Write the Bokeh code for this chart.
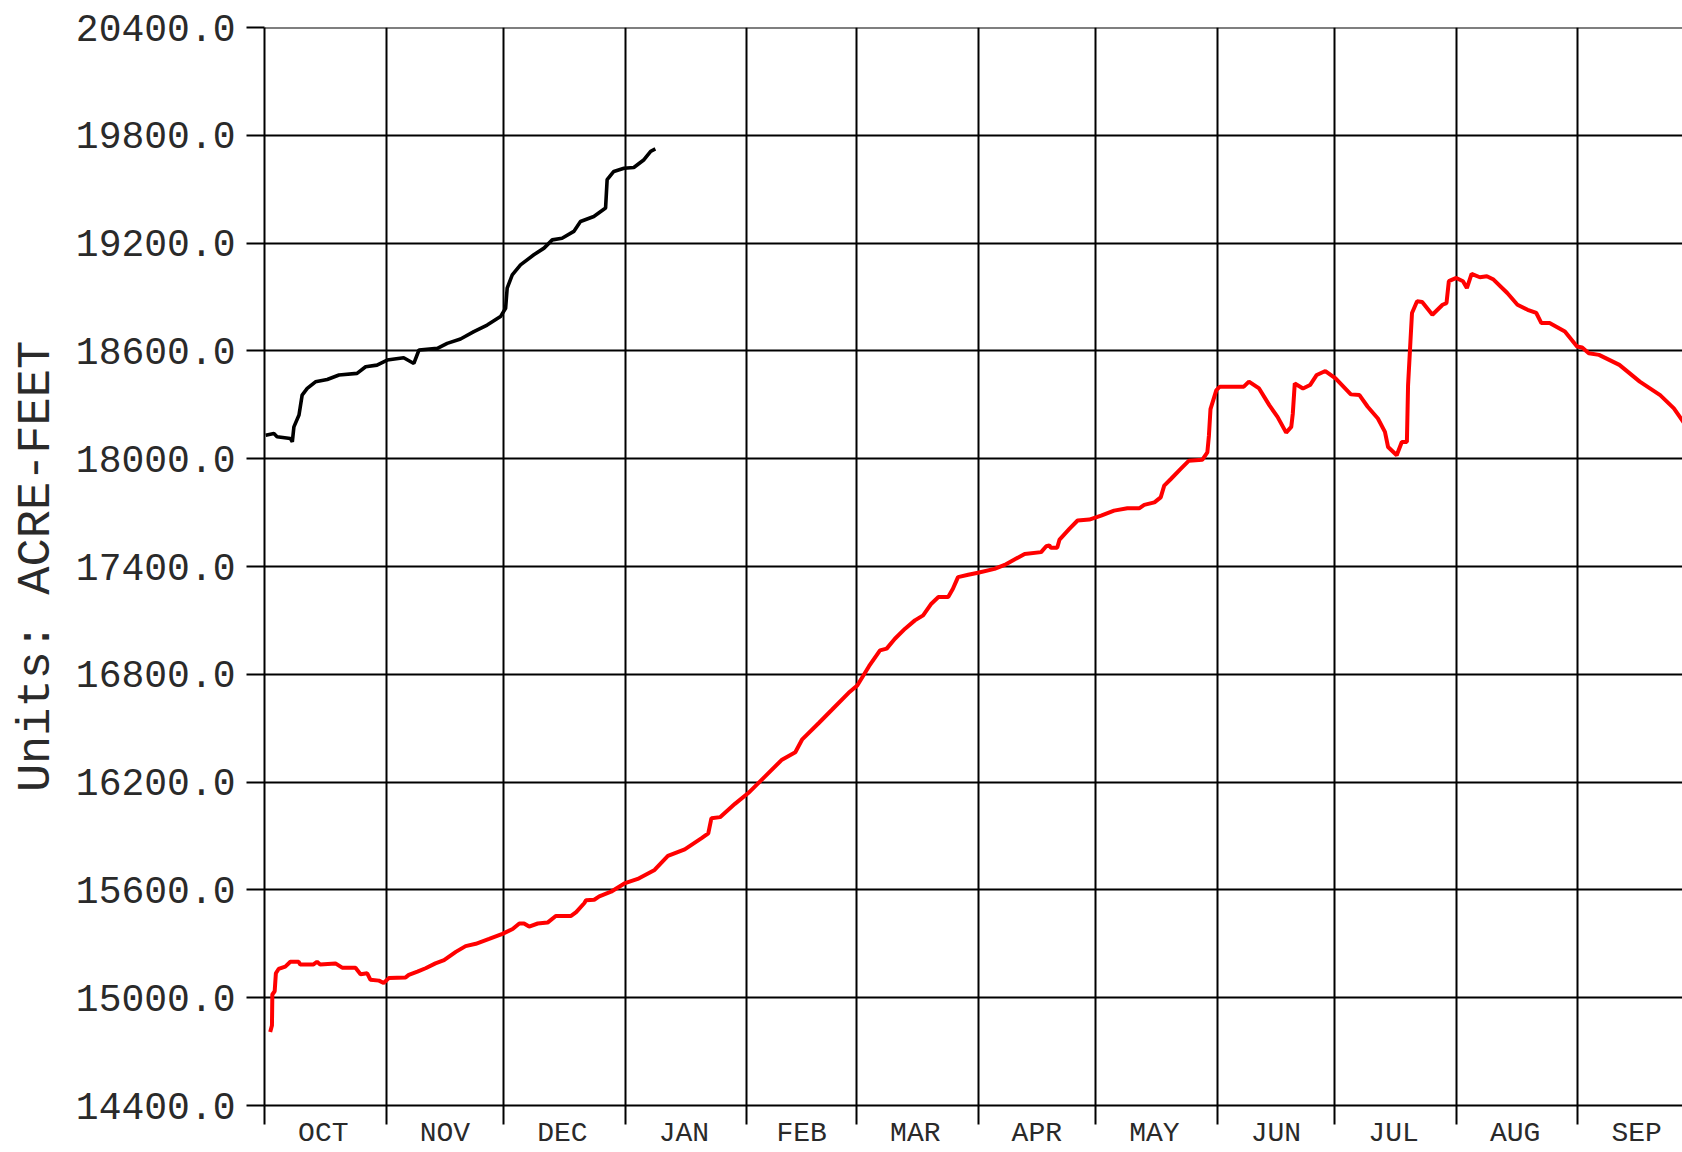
from bokeh.plotting import figure
from bokeh.models import FixedTicker, Span, Range1d, PrintfTickFormatter
from bokeh.embed import file_html
from bokeh.resources import INLINE

# ---- data ----
months = ["OCT", "NOV", "DEC", "JAN", "FEB", "MAR", "APR", "MAY", "JUN", "JUL", "AUG", "SEP"]
month_start_days = [0, 31, 61, 92, 123, 151, 182, 212, 243, 273, 304, 335, 365]
y_ticks = [14400, 15000, 15600, 16200, 16800, 17400, 18000, 18600, 19200, 19800, 20400]

# current water year (black), day of water year since Oct 1
current_days = [0.3, 2.4, 3.2, 6.6, 7.1, 7.5, 8.8, 9.6, 10.9, 13.0, 16.0, 19.0, 23.6, 25.8,
                28.7, 31.3, 35.5, 38.1, 39.4, 44.1, 46.6, 50.0, 53.4, 56.8, 60.2, 61.5, 61.9,
                63.2, 65.3, 68.7, 71.3, 73.4, 75.9, 78.9, 80.6, 84.0, 87.0, 87.4, 89.1, 91.7,
                94.2, 96.8, 98.5, 99.7]
current_vals = [18131, 18140, 18122, 18112, 18094, 18177, 18243, 18354, 18391, 18428, 18441,
                18466, 18475, 18512, 18521, 18549, 18562, 18530, 18605, 18614, 18642, 18666,
                18707, 18744, 18791, 18837, 18949, 19023, 19079, 19135, 19172, 19218, 19227,
                19265, 19320, 19348, 19395, 19553, 19599, 19617, 19621, 19664, 19711, 19724]

# previous water year (red)
previous_days = [1.45, 1.9, 2.0, 2.6, 2.9, 3.6, 5.3, 6.6, 8.7, 9.1, 12.5, 13.4, 14.2, 18.1,
                 19.8, 23.2, 24.5, 26.2, 27.0, 29.2, 30.4, 31.7, 36.0, 36.8, 39.0, 41.1, 43.6,
                 45.8, 48.8, 51.3, 53.9, 57.3, 60.7, 63.3, 65.0, 66.2, 67.5, 69.7, 72.2, 74.3,
                 78.2, 79.5, 81.6, 82.0, 84.1, 85.4, 88.4, 91.8, 95.2, 99.5, 102.9, 107.2,
                 111.5, 113.2, 114.0, 116.2, 120.0, 123.4, 127.7, 132.0, 135.4, 137.1, 141.4,
                 144.8, 149.0, 151.2, 154.2, 157.0, 158.7, 160.8, 163.4, 165.9, 168.0, 170.1,
                 171.9, 174.4, 175.6, 176.9, 179.5, 182.0, 186.2, 188.8, 191.3, 193.9, 198.1,
                 199.4, 200.2, 200.6, 202.2, 202.8, 205.3, 207.4, 210.4, 213.4, 216.7, 220.1,
                 223.1, 224.4, 227.0, 228.6, 229.5, 231.2, 233.7, 235.8, 239.2, 240.5, 240.9,
                 241.3, 242.8, 243.7, 249.8, 251.1, 253.7, 256.3, 258.4, 260.6, 261.9, 262.3,
                 262.8, 264.9, 266.7, 268.4, 270.6, 273.2, 277.1, 279.3, 281.4, 284.0, 285.8,
                 286.6, 288.8, 290.1, 291.4, 291.7, 292.3, 292.7, 294.0, 295.3, 297.9, 300.5,
                 301.5, 302.1, 304.0, 305.7, 306.7, 307.9, 310.0, 311.8, 313.5, 317.0, 319.6,
                 322.2, 324.4, 325.7, 327.8, 331.7, 334.8, 336.1, 337.8, 340.4, 345.6, 350.8,
                 356.0, 359.5, 361.9, 364.0]
previous_vals = [14809, 14845, 15018, 15036, 15136, 15160, 15173, 15200, 15200, 15185, 15185,
                 15200, 15185, 15191, 15167, 15167, 15131, 15136, 15100, 15095, 15082, 15109,
                 15113, 15127, 15145, 15164, 15191, 15209, 15255, 15287, 15300, 15327, 15355,
                 15382, 15413, 15413, 15396, 15413, 15418, 15455, 15455, 15476, 15527, 15542,
                 15545, 15564, 15590, 15636, 15661, 15711, 15789, 15826, 15888, 15915, 15999,
                 16005, 16079, 16139, 16232, 16325, 16366, 16436, 16529, 16604, 16697, 16738,
                 16845, 16933, 16943, 16998, 17054, 17100, 17128, 17193, 17230, 17230, 17276,
                 17341, 17354, 17365, 17387, 17409, 17439, 17470, 17480, 17513, 17517, 17504,
                 17504, 17550, 17609, 17656, 17661, 17683, 17711, 17724, 17724, 17743, 17757,
                 17785, 17850, 17887, 17943, 17989, 17994, 18035, 18128, 18276, 18382, 18401,
                 18401, 18429, 18391, 18298, 18233, 18145, 18177, 18252, 18419, 18391, 18410,
                 18466, 18488, 18447, 18358, 18354, 18289, 18224, 18149, 18065, 18019, 18093,
                 18093, 18410, 18652, 18811, 18876, 18872, 18801, 18857, 18866, 18988, 19006,
                 18988, 18950, 19029, 19010, 19016, 18997, 18922, 18857, 18829, 18811, 18755,
                 18755, 18708, 18624, 18619, 18587, 18578, 18522, 18429, 18354, 18280, 18205,
                 18150]

# ---- figure ----
FONT = "Liberation Mono"
TXT = "#2a2a2a"

p = figure(width=1682, height=1152, output_backend="svg", toolbar_location=None,
           x_range=Range1d(0, 361.7), y_range=Range1d(y_ticks[0], y_ticks[-1]),
           min_border_left=264, min_border_right=0, min_border_top=27, min_border_bottom=47)
p.outline_line_color = None
p.background_fill_color = "white"
p.border_fill_color = "white"

# month label positions at mid-month
mids = [(a + b) // 2 for a, b in zip(month_start_days[:-1], month_start_days[1:])]

xa = p.xaxis[0]
xa.ticker = FixedTicker(ticks=mids, minor_ticks=month_start_days)
xa.major_label_overrides = {m: name for m, name in zip(mids, months)}
xa.axis_line_color = "black"
xa.axis_line_width = 2
xa.major_tick_in = 0
xa.major_tick_out = 0
xa.minor_tick_in = 0
xa.minor_tick_out = 19
xa.minor_tick_line_color = "black"
xa.minor_tick_line_width = 2
xa.major_label_standoff = -7
xa.major_label_text_font = FONT
xa.major_label_text_font_size = "28px"
xa.major_label_text_color = TXT

ya = p.yaxis[0]
ya.ticker = FixedTicker(ticks=y_ticks)
ya.formatter = PrintfTickFormatter(format="%.1f")
ya.axis_line_color = "black"
ya.axis_line_width = 2
ya.major_tick_in = 0
ya.major_tick_out = 18
ya.major_tick_line_color = "black"
ya.major_tick_line_width = 2
ya.minor_tick_line_color = None
ya.major_label_standoff = 11
ya.major_label_text_font = FONT
ya.major_label_text_font_size = "38px"
ya.major_label_text_color = TXT
ya.axis_label = "Units: ACRE-FEET"
ya.axis_label_text_font = FONT
ya.axis_label_text_font_size = "47px"
ya.axis_label_text_font_style = "normal"
ya.axis_label_text_color = TXT
ya.axis_label_standoff = 10

p.xgrid.ticker = FixedTicker(ticks=month_start_days)
p.ygrid.ticker = FixedTicker(ticks=y_ticks)
for g in (p.xgrid[0], p.ygrid[0]):
    g.grid_line_color = "black"
    g.grid_line_width = 2
    g.grid_line_alpha = 1.0

p.add_layout(Span(location=y_ticks[-1], dimension="width", line_color="black", line_width=2))

p.line(previous_days, previous_vals, line_color="#ff0000", line_width=4)
p.line(current_days, current_vals, line_color="black", line_width=3.6)

open("out.html", "w").write(file_html(p, INLINE))
